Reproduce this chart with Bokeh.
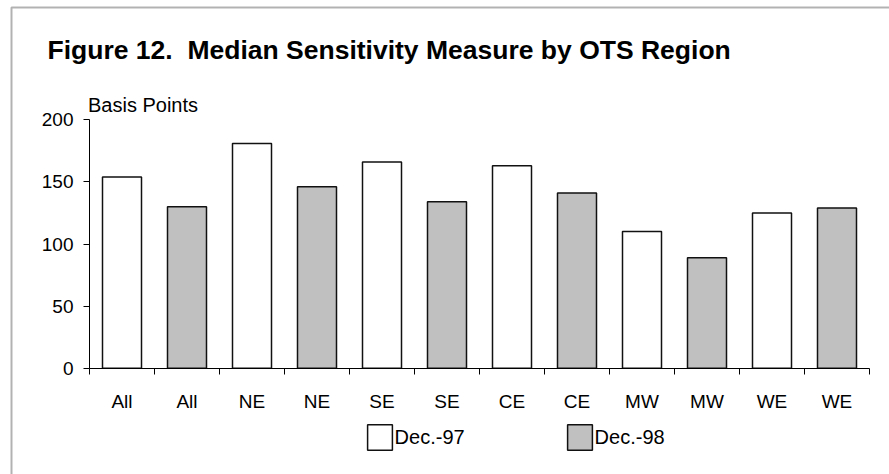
from bokeh.plotting import figure
from bokeh.models import (Range1d, FixedTicker, LinearAxis, Legend, Label, BoxAnnotation)
from bokeh.embed import file_html
from bokeh.resources import INLINE

# ---- data ----
regions = ["All", "NE", "SE", "CE", "MW", "WE"]
dec97 = [154, 181, 166, 163, 110, 125]
dec98 = [130, 146, 134, 141, 89, 129]
series_names = ["Dec.-97", "Dec.-98"]
y_ticks = [0, 50, 100, 150, 200]
y_max = 200
title_text = "Figure 12.\u00a0 Median Sensitivity Measure by OTS Region"
y_label_text = "Basis Points"

# ---- layout (pixels) ----
W, H = 889, 474
PX_LEFT, PX_RIGHT, PX_TOP, PX_BOTTOM = 89, 869, 119.3, 367.7
FONT = "Liberation Sans"

n = len(regions)
n_cat = 2 * n
x97 = [2 * i + 0.5 for i in range(n)]
x98 = [2 * i + 1.5 for i in range(n)]
centers = sorted(x97 + x98)
bounds = list(range(n_cat + 1))
cat_labels = [r for r in regions for _ in (0, 1)]

xs = (PX_RIGHT - PX_LEFT) / n_cat
ys = (PX_BOTTOM - PX_TOP) / y_max
x_range = Range1d(-PX_LEFT / xs, n_cat + (W - PX_RIGHT) / xs)
y_range = Range1d(-(H - PX_BOTTOM) / ys, y_max + PX_TOP / ys)

p = figure(width=W, height=H, output_backend="svg", toolbar_location=None,
           x_range=x_range, y_range=y_range, min_border=0,
           min_border_left=0, min_border_right=0, min_border_top=0,
           min_border_bottom=0, x_axis_type=None, y_axis_type=None, title=None)
p.grid.visible = False
p.outline_line_color = None
p.background_fill_color = "white"
p.border_fill_color = "white"

# y axis
yax = LinearAxis(ticker=FixedTicker(ticks=y_ticks, minor_ticks=[]),
                 fixed_location=0, bounds=(0, y_max))
yax.major_tick_out = 6
yax.major_tick_in = 0
yax.minor_tick_out = 0
yax.major_label_standoff = 10
yax.major_label_text_font = FONT
yax.major_label_text_font_size = "19px"
yax.major_label_text_color = "black"
yax.axis_line_color = "black"
yax.major_tick_line_color = "black"
p.add_layout(yax, "left")

# x axis: labels at bar centres, boundary ticks as minor ticks
xax = LinearAxis(ticker=FixedTicker(ticks=centers, minor_ticks=bounds),
                 fixed_location=0, bounds=(0, n_cat))
xax.major_label_overrides = {c: l for c, l in zip(centers, cat_labels)}
xax.major_tick_out = 0
xax.major_tick_in = 0
xax.major_tick_line_color = None
xax.minor_tick_out = 6
xax.minor_tick_in = 0
xax.minor_tick_line_color = "black"
xax.axis_line_color = "black"
xax.major_label_standoff = 17
xax.major_label_text_font = FONT
xax.major_label_text_font_size = "19px"
xax.major_label_text_color = "black"
p.add_layout(xax, "below")

r97 = p.vbar(x=x97, top=dec97, width=0.6, bottom=0, fill_color="white",
             line_color="#111111", line_width=1.5)
r98 = p.vbar(x=x98, top=dec98, width=0.6, bottom=0, fill_color="#C0C0C0",
             line_color="#111111", line_width=1.5)

legend = Legend(items=[(series_names[0], [r97]), (series_names[1], [r98])],
                orientation="horizontal", location=(363.6, H - 420.75 - 32.5),
                glyph_width=31, glyph_height=32, label_standoff=0,
                label_width=169, spacing=0, padding=0, margin=0,
                border_line_color=None, background_fill_alpha=0,
                label_text_font=FONT, label_text_font_size="20px",
                label_text_color="black")
p.add_layout(legend)

p.add_layout(Label(x=47, y=H - 49.7, x_units="screen", y_units="screen",
                   text=title_text, text_font=FONT, text_font_size="26.5px",
                   text_font_style="bold", text_color="black",
                   text_baseline="alphabetic"))
p.add_layout(Label(x=87.5, y=H - 104.5, x_units="screen", y_units="screen",
                   text=y_label_text, text_font=FONT, text_font_size="20px",
                   text_color="black", text_baseline="alphabetic"))

# outer frame (left and top edges; right/bottom fall outside the window)
p.add_layout(BoxAnnotation(left=11, right=W + 50, top=H - 7, bottom=-50,
                           left_units="screen", right_units="screen",
                           top_units="screen", bottom_units="screen",
                           fill_color=None, fill_alpha=0,
                           line_color="black", line_width=2))

open("out.html", "w").write(file_html(p, INLINE))
